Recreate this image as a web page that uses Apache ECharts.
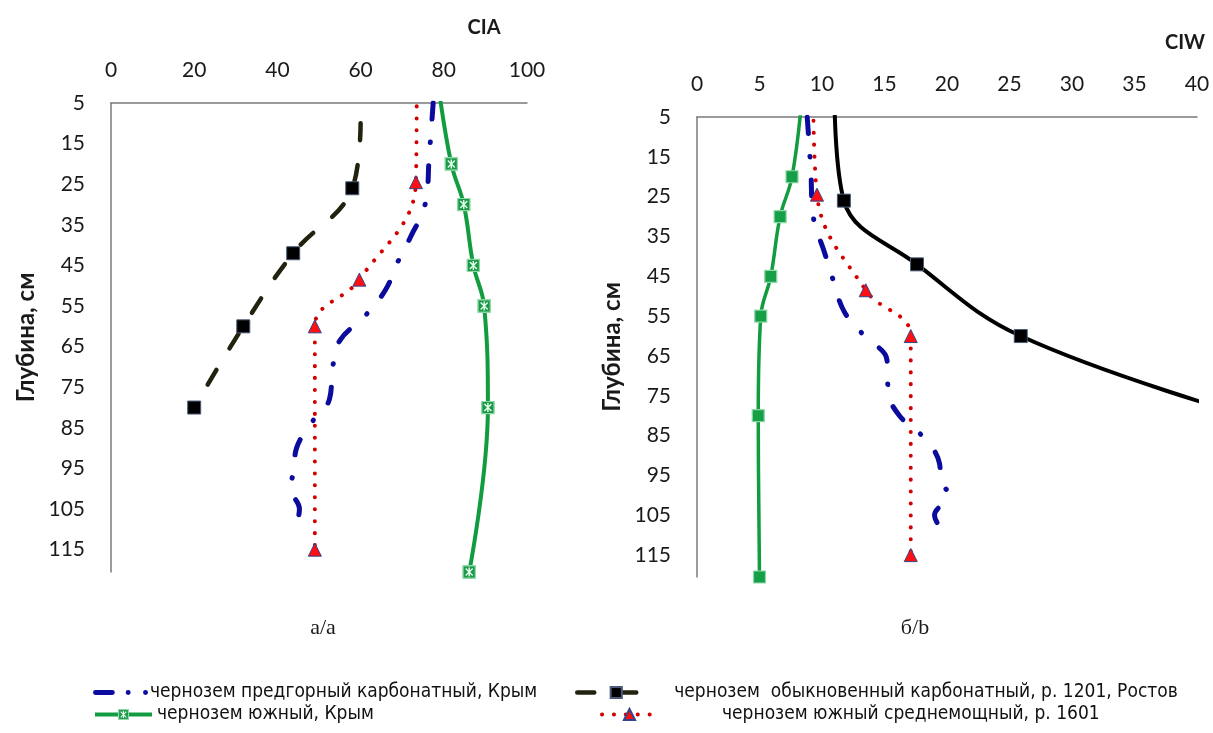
<!DOCTYPE html>
<html><head><meta charset="utf-8">
<script src="https://cdn.jsdelivr.net/npm/echarts@6/dist/echarts.min.js"></script>
<style>html,body{margin:0;padding:0;background:#fff}#c{width:1213px;height:733px}</style>
</head><body><div id="c"></div>
<script>
// ---------- data: left panel (CIA) ----------
const ciaTicks = [0, 20, 40, 60, 80, 100];
const depthTicks = [5, 15, 25, 35, 45, 55, 65, 75, 85, 95, 105, 115];
const ciaBlueDepth = [0, 18, 30, 38, 44, 51, 57.5, 63.5, 70, 78, 84, 90, 95, 100, 105, 110];
const ciaBlueVal   = [77.8, 76.5, 75.5, 72, 69, 66, 61, 55, 53.3, 52.5, 48, 44.6, 44, 43.2, 45.3, 44.2];
const ciaGreenDepth = [0, 20, 30, 45, 55, 80, 120.5];
const ciaGreenVal   = [78.6, 81.8, 84.8, 87.1, 89.7, 90.6, 86.1];
const ciaBlackDepth = [10, 26, 42, 60, 80];
const ciaBlackVal   = [60, 58, 43.8, 31.8, 20];
const ciaRedDepth = [0, 24.5, 48.5, 60, 115];
const ciaRedVal   = [73.5, 73.3, 59.7, 49, 49];
// ---------- data: right panel (CIW) ----------
const ciwTicks = [0, 5, 10, 15, 20, 25, 30, 35, 40];
const ciwBlueDepth = [0, 18, 30, 39, 46, 54, 60, 66, 74, 80, 86, 92, 96, 100, 105, 109];
const ciwBlueVal   = [8.7, 9.1, 9.3, 10.2, 10.9, 11.8, 13.4, 15.2, 15.3, 16.2, 18.3, 19.4, 19.5, 20.1, 19, 19.7];
const ciwGreenDepth = [0, 20, 30, 45, 55, 80, 120.5];
const ciwGreenVal   = [8.4, 7.6, 6.65, 5.9, 5.1, 4.9, 5.0];
const ciwBlackDepth = [0, 26, 42, 60, 80];
const ciwBlackVal   = [11, 11.75, 17.6, 25.9, 44];
const ciwRedDepth = [0, 24.5, 48.5, 60, 115];
const ciwRedVal   = [9.3, 9.6, 13.5, 17.1, 17.1];

const names = {
  blue: 'чернозем предгорный карбонатный, Крым',
  black: 'чернозем  обыкновенный карбонатный, р. 1201, Ростов',
  green: 'чернозем южный, Крым',
  red: 'чернозем южный среднемощный, р. 1601'
};

const BLUE = '#0b0b9e', GREEN = '#129c40', RED = '#d40000';
const NUM_FONT = 'Lato, "Open Sans", sans-serif';

const starSvg = 'image://data:image/svg+xml;utf8,' + encodeURIComponent(
  '<svg xmlns="http://www.w3.org/2000/svg" width="14" height="14">' +
  '<rect x="0.75" y="0.75" width="12.5" height="12.5" fill="#1a9a45" stroke="#8fd8a8" stroke-width="1.5"/>' +
  '<path d="M3.5 3.5L10.5 10.5M10.5 3.5L3.5 10.5M7 2.5V11.5" stroke="#e6fff0" stroke-width="1.4"/></svg>');

const blueLegendIcon = 'path://M2,1.5h17a2.5,2.5 0 0 1 0,5h-17a2.5,2.5 0 0 1 0,-5z' +
  'M32.5,4a2.5,2.5 0 1,0 5,0a2.5,2.5 0 1,0 -5,0z' +
  'M50,4a2.5,2.5 0 1,0 5,0a2.5,2.5 0 1,0 -5,0z';

function pts(vals, depths, hideFirst) {
  return depths.map((d, i) => {
    const item = { value: [vals[i], d] };
    if (hideFirst && i === 0) item.symbol = 'none';
    return item;
  });
}

function line(name, idx, vals, depths, style, marker, hideFirst) {
  const s = {
    name, type: 'line', xAxisIndex: idx, yAxisIndex: idx,
    data: pts(vals, depths, hideFirst), smooth: 0.4, clip: true,
    lineStyle: style, itemStyle: { color: style.color }, z: 3
  };
  if (marker) {
    s.symbol = marker.symbol; s.symbolSize = marker.size;
    s.itemStyle = marker.itemStyle || { color: style.color };
    s.showSymbol = true;
  } else {
    s.symbol = 'none'; s.showSymbol = false;
  }
  return s;
}

const blueStyle = { color: BLUE, width: 5, type: [16, 23, 0.5, 23], dashOffset: 42, cap: 'round' };
const blackDashStyle = { color: '#22220f', width: 4.5, type: [17, 25], cap: 'round' };
const blackSolidStyle = { color: '#000', width: 4 };
const greenStyleL = { color: GREEN, width: 4 };
const greenStyleR = { color: GREEN, width: 3.5 };
const redStyle = { color: RED, width: 4, type: [0.1, 11.8], cap: 'round' };

const blackMarker = { symbol: 'rect', size: 13, itemStyle: { color: '#000', borderColor: '#4a5a78', borderWidth: 1 } };
const redMarker = { symbol: 'triangle', size: 13, itemStyle: { color: '#ff1010', borderColor: '#34448c', borderWidth: 1 } };
const greenStarMarker = { symbol: starSvg, size: 14, itemStyle: { color: GREEN } };
const greenSqMarker = { symbol: 'rect', size: 12, itemStyle: { color: '#15a048', borderColor: '#8fd8a8', borderWidth: 1.2 } };

const series = [
  line(names.blue, 0, ciaBlueVal, ciaBlueDepth, blueStyle, null, true),
  line(names.black, 0, ciaBlackVal, ciaBlackDepth, blackDashStyle, blackMarker, true),
  line(names.green, 0, ciaGreenVal, ciaGreenDepth, greenStyleL, greenStarMarker, true),
  line(names.red, 0, ciaRedVal, ciaRedDepth, redStyle, redMarker, true),
  line(names.blue + ' ', 1, ciwBlueVal, ciwBlueDepth, blueStyle, null, true),
  line(names.black + ' ', 1, ciwBlackVal, ciwBlackDepth, blackSolidStyle, blackMarker, true),
  line(names.green + ' ', 1, ciwGreenVal, ciwGreenDepth, greenStyleR, greenSqMarker, true),
  line(names.red + ' ', 1, ciwRedVal, ciwRedDepth, redStyle, redMarker, true)
];

function xAxis(idx, ticks) {
  return {
    gridIndex: idx, type: 'value', position: 'top',
    min: ticks[0], max: ticks[ticks.length - 1], interval: ticks[1] - ticks[0],
    axisLine: { show: true, onZero: false, lineStyle: { color: '#7a7a7a', width: 1.5 } },
    axisTick: { show: false }, splitLine: { show: false },
    axisLabel: { fontSize: 21, color: '#1a1a1a', fontFamily: NUM_FONT, margin: 22 }
  };
}
function yAxis(idx) {
  return {
    gridIndex: idx, type: 'value', inverse: true,
    min: depthTicks[0], max: 120.5, interval: depthTicks[1] - depthTicks[0],
    axisLine: { show: true, onZero: false, lineStyle: { color: '#7a7a7a', width: 1.5 } },
    axisTick: { show: false }, splitLine: { show: false },
    axisLabel: { fontSize: 21, color: '#1a1a1a', fontFamily: NUM_FONT, margin: 26, showMaxLabel: false },
    name: 'Глубина, см', nameLocation: 'middle', nameRotate: 90, nameGap: 73,
    nameTextStyle: { fontSize: 24, fontWeight: 'bold', color: '#1a1a1a', fontFamily: NUM_FONT }
  };
}

const LEG_FONT = '"Liberation Sans Narrow", "DejaVu Sans Condensed", "Liberation Sans", sans-serif';
function legend(item, left, top, w, pad, lineW) {
  return {
    data: [item], left, top, itemWidth: w, itemHeight: 14, selectedMode: false,
    padding: 0,
    lineStyle: { width: lineW },
    textStyle: { fontSize: 19, fontFamily: LEG_FONT, color: '#111', padding: pad }
  };
}

const option = {
  animation: false,
  backgroundColor: '#fff',
  grid: [
    { left: 111, top: 103, width: 416, height: 469 },
    { left: 697, top: 117, width: 500, height: 460 }
  ],
  xAxis: [xAxis(0, ciaTicks), xAxis(1, ciwTicks)],
  yAxis: [yAxis(0), yAxis(1)],
  legend: [
    legend({ name: names.blue, icon: blueLegendIcon }, 93, 683, 55, [0, 0, 0, -3], 4.5),
    legend(names.black, 575, 683, 78, [0, 0, 0, 14], 4.5),
    legend(names.green, 93, 705, 57, [0, 0, 10, 0], 4),
    legend(names.red, 600, 705, 55, [0, 0, 0, 60], 4)
  ],
  graphic: [
    { type: 'text', x: 484, y: 28, style: { text: 'CIA', fontSize: 20, fontWeight: 'bold', fontFamily: NUM_FONT, fill: '#1a1a1a', align: 'center', verticalAlign: 'middle' } },
    { type: 'text', x: 1185, y: 43, style: { text: 'CIW', fontSize: 20, fontWeight: 'bold', fontFamily: NUM_FONT, fill: '#1a1a1a', align: 'center', verticalAlign: 'middle' } },
    { type: 'text', x: 323, y: 628, style: { text: 'а/а', fontSize: 22, fontFamily: '"Liberation Serif", serif', fill: '#1a1a1a', align: 'center', verticalAlign: 'middle' } },
    { type: 'text', x: 915, y: 628, style: { text: 'б/b', fontSize: 22, fontFamily: '"Liberation Serif", serif', fill: '#1a1a1a', align: 'center', verticalAlign: 'middle' } }
  ],
  series
};
const chart = echarts.init(document.getElementById('c'), null, { renderer: 'canvas' });
chart.setOption(option);
</script></body></html>
